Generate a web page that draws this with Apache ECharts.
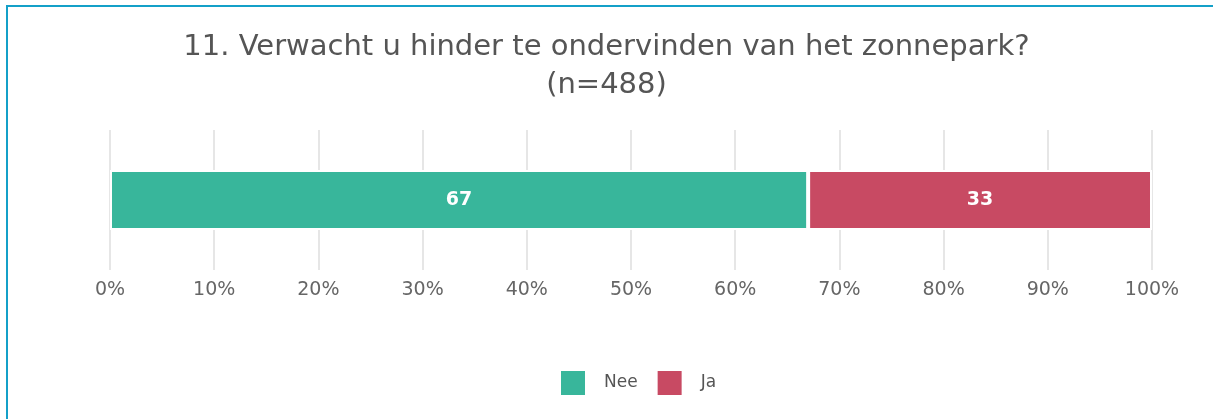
<!DOCTYPE html>
<html lang="nl">
  <head>
    <meta charset="utf-8" />
    <title>Zonnepark</title>
    <script src="https://cdn.jsdelivr.net/npm/echarts@6/dist/echarts.min.js"></script>
    <style>
      * { margin: 0; padding: 0; }
      html, body { width: 1213px; height: 419px; background: #fff; overflow: hidden; }
      #frame {
        position: absolute; left: 6px; top: 5px;
        width: 1240px; height: 440px;
        border-left: 2px solid #14a0c8;
        border-top: 2px solid #14a0c8;
      }
      #main { position: absolute; left: 0; top: 0; width: 1213px; height: 419px; }
    </style>
  </head>
  <body>
    <div id="frame"></div>
    <div id="main"></div>
    <script type="text/javascript">
      // data
      const category = ['Q11'];
      const seriesNames = ['Nee', 'Ja'];
      const neeValues = [67];
      const jaValues = [33];
      const seriesColors = ['#38b69b', '#c84a63'];

      const chart = echarts.init(document.getElementById('main'));

      const font = '"DejaVu Sans", "Noto Sans", sans-serif';

      const option = {
        textStyle: { fontFamily: font },
        title: {
          text: '11. Verwacht u hinder te ondervinden van het zonnepark?\n(n=488)',
          left: 'center',
          top: 28,
          padding: 0,
          textStyle: {
            fontFamily: font,
            fontSize: 29,
            fontWeight: 'normal',
            color: '#555',
            lineHeight: 38
          }
        },
        legend: {
          left: 559,
          top: 369,
          padding: 0,
          itemWidth: 26,
          itemHeight: 26,
          itemGap: 18,
          icon: 'rect',
          data: seriesNames,
          textStyle: {
            fontFamily: font,
            fontSize: 17,
            color: '#555',
            padding: [0, 0, 0, 13]
          }
        },
        grid: {
          left: 110,
          right: 61,
          top: 130,
          bottom: 149
        },
        xAxis: {
          type: 'value',
          min: 0,
          max: 100,
          interval: 10,
          axisLine: { show: false },
          axisTick: { show: false },
          splitLine: { lineStyle: { color: '#e6e6e6', width: 2 } },
          axisLabel: {
            formatter: '{value}%',
            fontSize: 19,
            color: '#666',
            margin: 11
          }
        },
        yAxis: {
          type: 'category',
          data: category,
          show: false
        },
        series: [
          {
            name: seriesNames[0],
            type: 'bar',
            stack: 'total',
            barWidth: 60,
            data: neeValues,
            itemStyle: { color: seriesColors[0], borderColor: '#fff', borderWidth: 2 },
            label: {
              show: true,
              position: 'inside',
              color: '#fff',
              fontWeight: 'bold',
              fontSize: 19
            }
          },
          {
            name: seriesNames[1],
            type: 'bar',
            stack: 'total',
            barWidth: 60,
            data: jaValues,
            itemStyle: { color: seriesColors[1], borderColor: '#fff', borderWidth: 2 },
            label: {
              show: true,
              position: 'inside',
              color: '#fff',
              fontWeight: 'bold',
              fontSize: 19
            }
          }
        ]
      };
      chart.setOption(option);
    </script>
  </body>
</html>
